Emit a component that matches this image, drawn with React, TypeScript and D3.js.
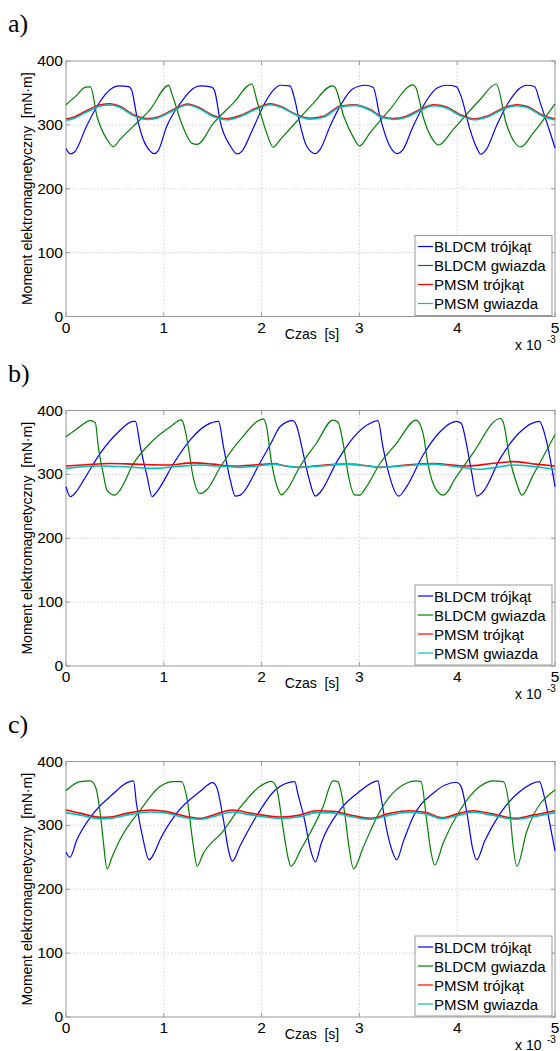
import React from "react";
import * as d3 from "d3";

type Pt = [number, number];

// ---- panel a) ----
const A_BLDCM_TRI: Pt[] = [[0,263],[0.045,254.5],[0.09,258],[0.21,298],[0.35,337],[0.45,355],[0.54,361],[0.64,360],[0.67,355],[0.725,313],[0.79,277],[0.86,259],[0.9,255],[0.94,259],[1.03,298],[1.17,334],[1.3,357],[1.37,361],[1.49,359],[1.52,353],[1.58,303],[1.68,267],[1.75,254.5],[1.8,259],[1.9,290],[2.05,339],[2.13,356],[2.19,362],[2.29,361],[2.34,339],[2.39,303],[2.46,267],[2.55,255],[2.6,262],[2.7,298],[2.82,334],[2.93,356],[3.06,362],[3.14,359],[3.21,313],[3.31,267],[3.39,255],[3.44,260],[3.55,298],[3.69,339],[3.79,357.5],[3.89,362],[3.99,360],[4.04,344.6],[4.13,293],[4.2,264],[4.24,254],[4.3,262],[4.4,298],[4.54,339],[4.64,357.5],[4.71,362],[4.79,360],[4.85,334],[4.95,288],[5,264]];
const A_BLDCM_STAR: Pt[] = [[0,331.6],[0.1,345],[0.2,359],[0.25,359.5],[0.317,313.5],[0.42,277],[0.486,266],[0.55,277],[0.69,298],[0.86,324],[1.05,361.7],[1.08,350],[1.18,303],[1.29,271],[1.34,269.5],[1.51,303],[1.71,334],[1.9,364],[1.95,339],[2.05,288],[2.12,265],[2.19,277],[2.36,305.7],[2.53,334],[2.72,361],[2.75,359],[2.84,313.5],[2.94,280],[3.0,267],[3.11,288],[3.31,324],[3.55,362.7],[3.58,357.5],[3.65,313.5],[3.75,277],[3.81,268.5],[3.96,293],[4.23,339],[4.4,364],[4.5,303],[4.59,272],[4.65,265.5],[4.78,288],[5,333]];
const A_PMSM_TRI: Pt[] = [[0,309.3],[0.06,311],[0.21,322],[0.35,331.6],[0.45,333],[0.55,329],[0.69,316],[0.83,310],[0.93,312],[1.1,324],[1.24,332.7],[1.37,326.5],[1.5,315],[1.64,309.3],[1.78,314.5],[1.95,326.5],[2.09,333],[2.19,329],[2.36,316],[2.49,310.4],[2.63,313.5],[2.8,329],[2.94,331.6],[3.11,324],[3.21,314.5],[3.35,310],[3.48,313.5],[3.62,324],[3.76,331.6],[3.89,328],[4.03,316],[4.17,309.3],[4.3,313.5],[4.5,328],[4.61,331.6],[4.71,329],[4.88,314.5],[5,309]];
const A_PMSM_STAR: Pt[] = [[0,307.5],[0.06,309],[0.21,320],[0.35,329.5],[0.45,331],[0.55,327.5],[0.69,314.5],[0.83,308.5],[0.93,310.5],[1.1,322.5],[1.24,331],[1.37,325],[1.5,313.5],[1.64,308],[1.78,313],[1.95,325],[2.09,331.5],[2.19,328],[2.36,315],[2.49,309],[2.63,312],[2.8,327.5],[2.94,330.5],[3.11,323],[3.21,313],[3.35,308.5],[3.48,312],[3.62,322.5],[3.76,330],[3.89,326.5],[4.03,314.5],[4.17,308],[4.3,312],[4.5,326.5],[4.61,330],[4.71,327.5],[4.88,313],[5,307.5]];

// ---- panel b) ----
const B_BLDCM_TRI: Pt[] = [[0,280.6],[0.045,265],[0.1,272],[0.18,291],[0.35,333],[0.52,364],[0.69,383],[0.71,383],[0.76,343.5],[0.83,296],[0.88,265],[0.93,273],[1.1,317],[1.27,354],[1.44,377.5],[1.56,383],[1.61,343.5],[1.68,291],[1.73,266],[1.78,267.5],[1.98,317],[2.1,350],[2.19,375],[2.32,384],[2.36,375],[2.41,343.5],[2.48,296],[2.55,266],[2.6,272],[2.77,320],[2.94,358],[3.11,380],[3.19,384],[3.24,343.5],[3.31,296],[3.4,266],[3.48,280],[3.65,330],[3.82,366],[3.99,383],[4.04,380],[4.1,343.5],[4.15,301],[4.2,266],[4.26,272],[4.44,325],[4.64,366],[4.84,383],[4.91,354],[5,280.6]];
const B_BLDCM_STAR: Pt[] = [[0,359],[0.1,370],[0.25,384.3],[0.3,381],[0.33,343.5],[0.38,301.6],[0.42,275],[0.5,267.5],[0.55,275],[0.69,317],[0.86,348.7],[1.07,375],[1.18,385.3],[1.2,380],[1.25,343.5],[1.3,296],[1.37,270],[1.44,276],[1.58,312],[1.78,354],[2.02,386.4],[2.05,375],[2.1,320],[2.16,280],[2.2,268],[2.26,276],[2.39,312],[2.56,348.7],[2.73,385],[2.78,382],[2.84,343.5],[2.89,296],[2.95,268],[3.0,267.5],[3.07,280],[3.21,317],[3.38,348.7],[3.58,385],[3.65,365],[3.7,317],[3.79,275],[3.86,267.5],[3.99,296],[4.16,333],[4.44,387.5],[4.47,382],[4.54,322.5],[4.61,285],[4.66,267.5],[4.78,300],[5,362]];
const B_PMSM_TRI: Pt[] = [[0,313],[0.2,315],[0.45,317],[0.7,316],[1.03,314.7],[1.3,318],[1.5,316],[1.7,313],[1.95,315],[2.14,317],[2.19,314.7],[2.39,311],[2.6,314],[2.87,316],[3.05,314],[3.21,311],[3.5,315],[3.75,317],[4.1,313],[4.35,317],[4.57,320],[4.8,316],[5,313]];
const B_PMSM_STAR: Pt[] = [[0,309.4],[0.35,313],[0.6,312],[0.9,309.4],[1.1,312],[1.37,314.7],[1.55,313],[1.78,311],[2.0,314],[2.14,316],[2.19,314.7],[2.39,311],[2.6,313],[2.87,316],[3.05,314],[3.21,311],[3.5,314],[3.75,316],[4.0,312],[4.23,308],[4.4,311],[4.57,314.7],[4.8,312],[5,308]];

// ---- panel c) ----
const C_BLDCM_TRI: Pt[] = [[0,258],[0.04,250],[0.11,277],[0.28,318.8],[0.45,345],[0.69,369.6],[0.72,334.6],[0.79,277],[0.85,246],[0.9,256],[0.96,277],[1.13,318.8],[1.37,352.9],[1.5,367],[1.54,360],[1.61,308.4],[1.66,262],[1.7,244],[1.78,268],[1.95,315],[2.14,355.5],[2.34,368.6],[2.37,350],[2.44,308.4],[2.5,262],[2.55,243],[2.61,272],[2.8,324],[3.0,352.9],[3.19,369.6],[3.22,345],[3.28,292.7],[3.34,258],[3.38,246],[3.45,275],[3.55,313.6],[3.75,350],[3.99,367.5],[4.04,360.7],[4.1,318.8],[4.16,262],[4.2,246],[4.28,275],[4.44,318.8],[4.64,352.9],[4.84,368.6],[4.89,345],[4.94,308.4],[5,260]];
const C_BLDCM_STAR: Pt[] = [[0,354.5],[0.146,368.6],[0.25,369.6],[0.3,360.7],[0.35,318.8],[0.38,277],[0.42,232],[0.47,250],[0.55,277],[0.76,324],[0.96,360.7],[1.1,368.6],[1.18,368.6],[1.24,339.8],[1.3,270],[1.34,236],[1.4,255],[1.6,290],[1.78,328],[1.98,360.7],[2.1,369],[2.15,360],[2.22,295],[2.27,250],[2.3,236],[2.4,262],[2.63,330],[2.73,369.6],[2.78,368.6],[2.8,360.7],[2.85,318.8],[2.89,270],[2.94,232],[3.04,266],[3.18,313.6],[3.31,345],[3.48,366],[3.58,369.6],[3.63,368.6],[3.69,305],[3.73,260],[3.77,238],[3.86,274],[4.03,324],[4.23,360.7],[4.37,369.6],[4.47,368.6],[4.54,318.8],[4.57,270],[4.61,236],[4.71,290],[5,355.5]];
const C_PMSM_TRI: Pt[] = [[0,324],[0.15,318.8],[0.35,312.6],[0.45,313],[0.62,318.8],[0.86,324],[1.03,321.5],[1.24,313.6],[1.37,311],[1.5,316],[1.7,324],[1.9,318.8],[2.19,313],[2.39,316],[2.56,323],[2.73,322],[2.94,315],[3.11,311],[3.31,318.8],[3.51,323],[3.68,320],[3.85,312],[4.02,318.8],[4.16,323],[4.36,318],[4.59,311],[4.77,316],[5,323]];
const C_PMSM_STAR: Pt[] = [[0,320],[0.15,316],[0.35,310.5],[0.45,311],[0.62,316],[0.86,321],[1.03,319],[1.24,311.5],[1.37,309.5],[1.5,313.5],[1.7,321],[1.9,316],[2.19,311],[2.39,313.5],[2.56,320],[2.73,319.5],[2.94,313],[3.11,309.5],[3.31,316],[3.51,320.5],[3.68,318],[3.85,310.5],[4.02,316],[4.16,320.5],[4.36,316],[4.59,309.5],[4.77,313.5],[5,320]];

const LEGEND = ["BLDCM trójkąt", "BLDCM gwiazda", "PMSM trójkąt", "PMSM gwiazda"];
const COLORS = ["#0000ff", "#008000", "#ff0000", "#00bfbf"];
const X_TICKS = [0, 1, 2, 3, 4, 5];
const Y_TICKS = [0, 100, 200, 300, 400];
const PANELS = [
  { label: "a)", top: 61, series: [A_BLDCM_TRI, A_BLDCM_STAR, A_PMSM_TRI, A_PMSM_STAR] },
  { label: "b)", top: 410.5, series: [B_BLDCM_TRI, B_BLDCM_STAR, B_PMSM_TRI, B_PMSM_STAR] },
  { label: "c)", top: 761.5, series: [C_BLDCM_TRI, C_BLDCM_STAR, C_PMSM_TRI, C_PMSM_STAR] },
];

const FONT = "'Liberation Sans', Arial, Helvetica, sans-serif";
const left = 66;
const right = 555;
const h = 255.5;

function Panel({ label, top, series }: { label: string; top: number; series: Pt[][] }) {
  const x = d3.scaleLinear().domain([0, 5]).range([left, right]);
  const y = d3.scaleLinear().domain([0, 400]).range([top + h, top]);
  const line = d3.line<Pt>().x(d => x(d[0])).y(d => y(d[1])).curve(d3.curveMonotoneX);
  const bottom = top + h;
  const lgTop = bottom - 81;
  return (
    <g>
      <text x={8} y={top - 29} fontFamily="'Liberation Serif', 'Times New Roman', serif" fontSize={26}>{label}</text>
      {X_TICKS.map(t => (
        <g key={"x" + t}>
          {t > 0 && t < 5 && <line x1={x(t)} x2={x(t)} y1={top} y2={bottom} stroke="#c8c8c8" strokeDasharray="1.5,2" strokeWidth={0.8} />}
          <line x1={x(t)} x2={x(t)} y1={bottom} y2={bottom - 4} stroke="#999" />
          <line x1={x(t)} x2={x(t)} y1={top} y2={top + 4} stroke="#999" />
          <text x={x(t)} y={bottom + 16} textAnchor="middle" fontFamily={FONT} fontSize={15.5}>{t}</text>
        </g>
      ))}
      {Y_TICKS.map(v => (
        <g key={"y" + v}>
          {v > 0 && v < 400 && <line x1={left} x2={right} y1={y(v)} y2={y(v)} stroke="#c8c8c8" strokeDasharray="1.5,2" strokeWidth={0.8} />}
          <line x1={left} x2={left + 4} y1={y(v)} y2={y(v)} stroke="#999" />
          <line x1={right} x2={right - 4} y1={y(v)} y2={y(v)} stroke="#999" />
          <text x={left - 3} y={y(v) + 5} textAnchor="end" fontFamily={FONT} fontSize={15.5}>{v}</text>
        </g>
      ))}
      <rect x={left} y={top} width={right - left} height={h} fill="none" stroke="#999" strokeWidth={1} />
      {series.map((s, i) => (
        <path key={i} d={line(s) || ""} fill="none" stroke={COLORS[i]} strokeWidth={i >= 2 ? 1.6 : 1.2} />
      ))}
      <text transform={`translate(32,${top + h / 2}) rotate(-90)`} textAnchor="middle" fontFamily={FONT} fontSize={14} xmlSpace="preserve">Moment elektromagnetyczny  [mN·m]</text>
      <text x={312} y={bottom + 22} textAnchor="middle" fontFamily={FONT} fontSize={14} xmlSpace="preserve">Czas  [s]</text>
      <text x={515} y={bottom + 33} fontFamily={FONT} fontSize={14}>x 10</text>
      <text x={547} y={bottom + 26} fontFamily={FONT} fontSize={10}>-3</text>
      <rect x={415} y={lgTop} width={137} height={80} fill="#fff" stroke="#999" />
      {LEGEND.map((name, i) => (
        <g key={name}>
          <line x1={418} x2={433} y1={lgTop + 11 + i * 19} y2={lgTop + 11 + i * 19} stroke={COLORS[i]} strokeWidth={1.2} />
          <text x={434} y={lgTop + 16.5 + i * 19} fontFamily={FONT} fontSize={15}>{name}</text>
        </g>
      ))}
    </g>
  );
}

export default function App() {
  return (
    <svg width={560} height={1051} style={{ position: "absolute", left: 0, top: 0, background: "#fff" }}>
      <rect width={560} height={1051} fill="#fff" />
      {PANELS.map(p => <Panel key={p.label} {...p} />)}
    </svg>
  );
}
